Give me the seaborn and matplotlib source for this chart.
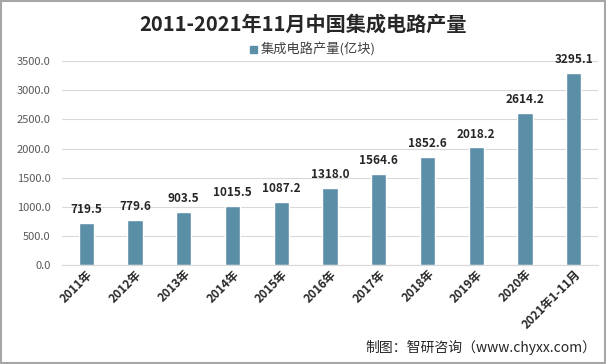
import matplotlib
matplotlib.use("Agg")
import matplotlib.pyplot as plt
import seaborn as sns
import pandas as pd

# ---------------- data
years = ["2011年", "2012年", "2013年", "2014年", "2015年", "2016年",
         "2017年", "2018年", "2019年", "2020年", "2021年1-11月"]
output = [719.5, 779.6, 903.5, 1015.5, 1087.2, 1318.0,
          1564.6, 1852.6, 2018.2, 2614.2, 3295.1]
yticks = [0, 500, 1000, 1500, 2000, 2500, 3000, 3500]
series_name = "集成电路产量(亿块)"

df = pd.DataFrame({"year": years, "value": output, "series": series_name})

sns.set_style("white")
plt.rcParams['font.family'] = ['Noto Sans CJK SC', 'DejaVu Sans']

bar_color = "#5B8FA8"

fig = plt.figure(figsize=(6.06, 3.64), dpi=100)
ax = fig.add_axes([0.102, 0.272, 0.885, 0.56])

sns.barplot(data=df, x="year", y="value", hue="series", palette=[bar_color],
            width=0.31, saturation=1, ax=ax, legend=False)

ax.set_ylim(0, 3500)
ax.set_yticks(yticks)
ax.set_yticklabels([f"{v:.1f}" for v in yticks], color="#595959", fontsize=8)
ax.yaxis.grid(True, color="#D9D9D9", lw=0.8)
ax.set_axisbelow(True)
ax.tick_params(axis="y", length=0, pad=8)
ax.tick_params(axis="x", length=0, pad=2)
for lab in ax.get_xticklabels():
    lab.set_rotation(45)
    lab.set_ha("right")
    lab.set_rotation_mode("anchor")
    lab.set_fontweight("bold")
    lab.set_fontsize(8.5)
    lab.set_color("#262626")
ax.set_xlabel("")
ax.set_ylabel("")
for s in ["top", "right", "left"]:
    ax.spines[s].set_visible(False)
ax.spines["bottom"].set_color("#D9D9D9")

for i, v in enumerate(output):
    ax.annotate(f"{v:.1f}", (i, v), xytext=(0, 5), textcoords="offset points",
                ha="center", va="bottom", fontsize=8.5, fontweight="bold", color="#262626")

fig.text(0.5, 0.935, "2011-2021年11月中国集成电路产量", ha="center", va="center",
         fontsize=14.5, fontweight="bold", color="#262626")

# legend
fig.patches.append(plt.Rectangle((0.413, 0.855), 0.011, 0.018, color=bar_color,
                                 transform=fig.transFigure, figure=fig))
fig.text(0.43, 0.864, series_name, ha="left", va="center", fontsize=9.5, color="#404040")

fig.text(0.985, 0.025, "制图：智研咨询（www.chyxx.com）", ha="right", va="bottom",
         fontsize=10, color="#262626")

fig.patches.append(plt.Rectangle((0.001, 0.002), 0.997, 0.995, fill=False,
                                 edgecolor="#A6A6A6", lw=1.5,
                                 transform=fig.transFigure, figure=fig))

fig.savefig("out.png", dpi=100)
